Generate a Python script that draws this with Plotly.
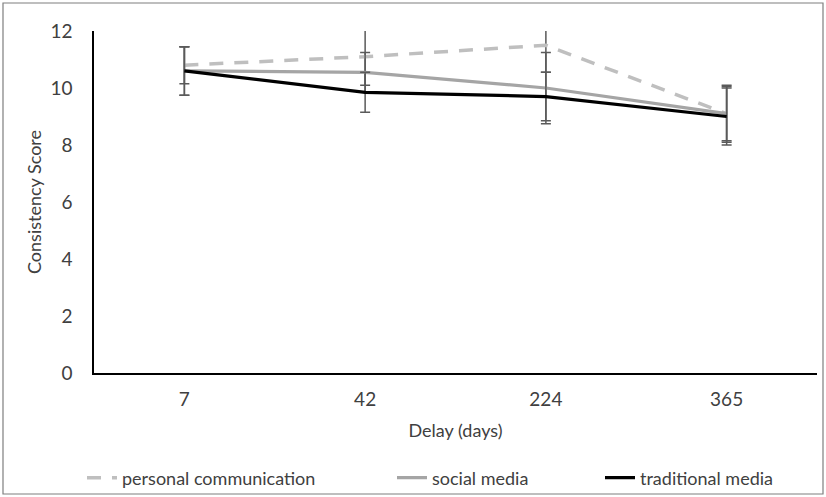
import plotly.graph_objects as go

delays = ["7", "42", "224", "365"]
personal = [10.8, 11.1, 11.5, 9.1]
personal_err = [0.65, 1.0, 0.95, 0.95]
social = [10.6, 10.55, 10.0, 9.1]
social_err = [0.85, 0.7, 1.25, 1.0]
traditional = [10.6, 9.85, 9.7, 9.0]
traditional_err = [0.85, 0.7, 0.85, 1.0]

W, H = 826, 497
L, R, T, B = 94, 9, 31, 124
pw, ph = W - L - R, H - T - B

def px(x):
    return (x - L) / pw

def py(y):
    return (H - B - y) / ph

font = "Lato"
txt = "#404040"
errc = "#5A5A5A"

fig = go.Figure()
fig.add_trace(go.Scatter(
    x=delays, y=personal, name="personal communication", mode="lines",
    line=dict(color="#BFBFBF", width=3.5, dash="14px,11px"),
    error_y=dict(type="data", array=personal_err, color=errc, thickness=1.5, width=5),
    legend="legend", showlegend=True))
fig.add_trace(go.Scatter(
    x=delays, y=social, name="social media", mode="lines",
    line=dict(color="#A5A5A5", width=3.2),
    error_y=dict(type="data", array=social_err, color=errc, thickness=1.5, width=5),
    legend="legend2", showlegend=True))
fig.add_trace(go.Scatter(
    x=delays, y=traditional, name="traditional media", mode="lines",
    line=dict(color="#000000", width=3.2),
    error_y=dict(type="data", array=traditional_err, color=errc, thickness=1.5, width=5),
    legend="legend3", showlegend=True))

leg_common = dict(orientation="h", yanchor="middle", xanchor="left",
                  xref="container", yref="container",
                  font=dict(family=font, size=18, color=txt),
                  bgcolor="rgba(0,0,0,0)", itemwidth=30)

def cx(x):
    return x / W

def cy(y):
    return 1 - y / H

fig.update_layout(
    width=W, height=H, showlegend=True,
    margin=dict(l=L, r=R, t=T, b=B),
    paper_bgcolor="white", plot_bgcolor="white",
    font=dict(family=font, color=txt),
    xaxis=dict(type="category", showline=True, linecolor="black", linewidth=1.5,
               showgrid=False, ticks="", tickfont=dict(size=19, color=txt),
               ticklabelstandoff=8,
               title=dict(text="Delay (days)", font=dict(size=18, color=txt), standoff=16),
               zeroline=False, range=[-0.5, 3.5]),
    yaxis=dict(range=[0, 12], dtick=2, showline=True, linecolor="black", linewidth=1.5,
               showgrid=False, ticks="", zeroline=False, ticklabelstandoff=16,
               tickfont=dict(size=19, color=txt),
               title=dict(text="Consistency Score", font=dict(size=18, color=txt), standoff=4)),
    legend=dict(x=cx(82), y=cy(478), **leg_common),
    legend2=dict(x=cx(392), y=cy(478), **leg_common),
    legend3=dict(x=cx(600), y=cy(478), **leg_common),
    shapes=[dict(type="rect", xref="paper", yref="paper",
                 x0=px(3), x1=px(823), y0=py(494), y1=py(3),
                 line=dict(color="#7F7F7F", width=1.2), layer="below")],
)

fig.write_html("out.html", config={"displayModeBar": False},
               post_script="document.body.style.margin='0';")
